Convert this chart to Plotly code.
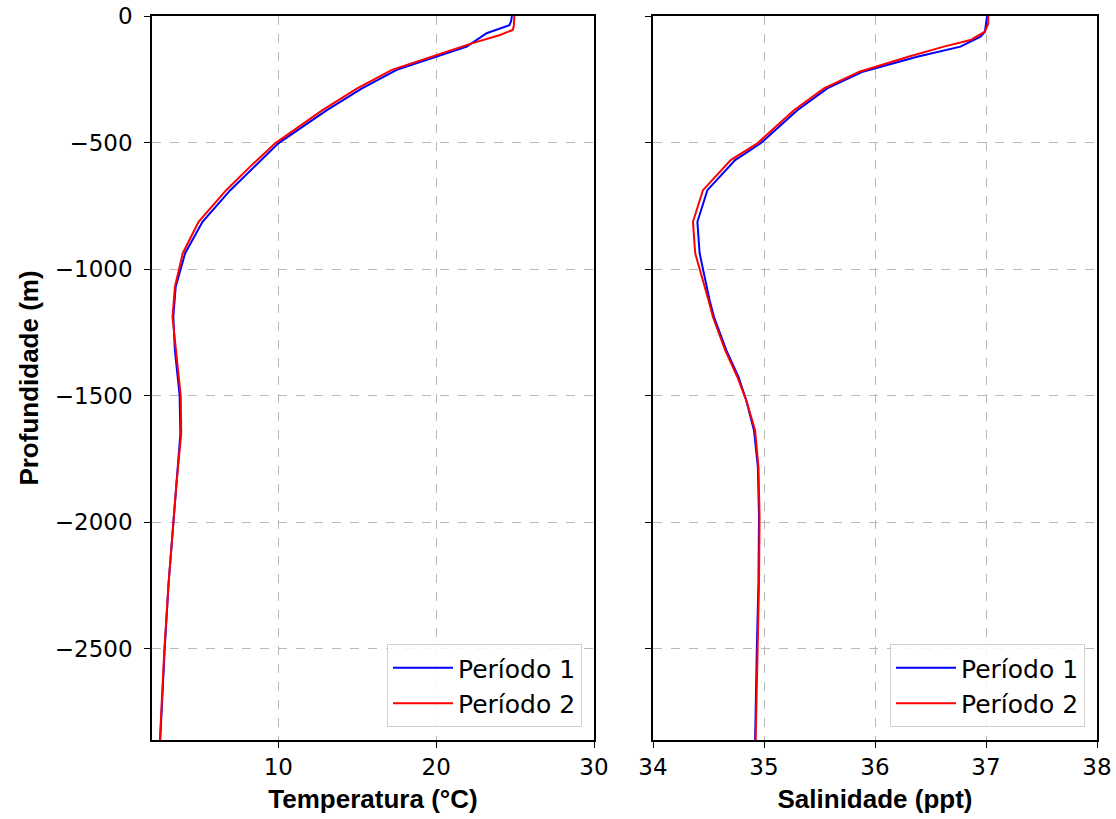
import plotly.graph_objects as go

# ---- Data ----
depth_t1 = [0, -20, -36, -68, -121, -161, -213, -286, -372, -503, -596, -688, -813, -937,
            -1070, -1189, -1320, -1500, -1650, -1846, -2242, -2506, -2860]
temp_p1 = [24.8, 24.75, 24.64, 23.2, 21.94, 20.04, 17.5, 15.3, 13.08, 10.0, 8.44, 6.96, 5.2, 4.1,
           3.5, 3.35, 3.45, 3.75, 3.8, 3.55, 3.05, 2.8, 2.52]

depth_t2 = [0, -40, -55, -75, -108, -161, -213, -286, -372, -503, -596, -688, -813, -937,
            -1070, -1189, -1320, -1500, -1650, -1846, -2242, -2506, -2860]
temp_p2 = [24.95, 24.92, 24.85, 24.05, 22.26, 19.7, 17.2, 15.0, 12.8, 9.8, 8.2, 6.7, 4.95, 3.95,
           3.45, 3.3, 3.5, 3.82, 3.85, 3.55, 3.05, 2.78, 2.5]

depth_s1 = [0, -30, -62, -82, -121, -161, -220, -286, -372, -503, -569, -688, -813, -937,
            -1123, -1189, -1320, -1426, -1518, -1637, -1782, -1979, -2242, -2506, -2860]
sal_p1 = [37.01, 37.0, 36.99, 36.95, 36.77, 36.38, 35.89, 35.57, 35.30, 34.97, 34.74, 34.49, 34.40, 34.42,
          34.51, 34.55, 34.66, 34.77, 34.84, 34.91, 34.945, 34.955, 34.95, 34.935, 34.92]

depth_s2 = [0, -30, -62, -95, -121, -161, -220, -286, -372, -503, -569, -688, -813, -937,
            -1123, -1189, -1320, -1426, -1518, -1637, -1782, -1979, -2242, -2506, -2860]
sal_p2 = [37.02, 37.02, 36.99, 36.86, 36.62, 36.3, 35.86, 35.54, 35.27, 34.94, 34.70, 34.45, 34.36, 34.38,
          34.50, 34.54, 34.65, 34.76, 34.84, 34.92, 34.95, 34.96, 34.955, 34.94, 34.925]

series_names = ["Período 1", "Período 2"]
colors = ["#0000ff", "#ff0000"]

temp_ticks = [10, 20, 30]
sal_ticks = [34, 35, 36, 37, 38]
depth_ticks = [0, -500, -1000, -1500, -2000, -2500]

W, H = 1116, 819
TICK_FONT = dict(family="DejaVu Sans", size=23, color="#000000")
TITLE_FONT = dict(family="Liberation Sans, Arial", size=26, color="#000000")


def fx(px):
    return px / W


def fy(py):
    return 1 - py / H


fig = go.Figure()

fig.add_trace(go.Scatter(x=temp_p1, y=depth_t1, mode="lines", name=series_names[0],
                         line=dict(color=colors[0], width=2), xaxis="x", yaxis="y", legend="legend"))
fig.add_trace(go.Scatter(x=temp_p2, y=depth_t2, mode="lines", name=series_names[1],
                         line=dict(color=colors[1], width=2), xaxis="x", yaxis="y", legend="legend"))
fig.add_trace(go.Scatter(x=sal_p1, y=depth_s1, mode="lines", name=series_names[0],
                         line=dict(color=colors[0], width=2), xaxis="x2", yaxis="y2", legend="legend2"))
fig.add_trace(go.Scatter(x=sal_p2, y=depth_s2, mode="lines", name=series_names[1],
                         line=dict(color=colors[1], width=2), xaxis="x2", yaxis="y2", legend="legend2"))

axis_common = dict(
    showline=True, linecolor="#000000", linewidth=1.6, mirror=True,
    ticks="outside", ticklen=6, tickwidth=1.4, tickcolor="#000000",
    showgrid=True, gridcolor="#b8b8b8", griddash="dash", gridwidth=1,
    zeroline=False, tickfont=TICK_FONT, automargin=False,
    ticklabeloverflow="allow",
)

legend_common = dict(
    font=dict(family="DejaVu Sans", size=25, color="#000000"),
    bgcolor="rgba(255,255,255,0.85)", bordercolor="#d0d0d0", borderwidth=1,
    xanchor="right", yanchor="bottom", tracegroupgap=0, itemwidth=60,
)

fig.update_layout(
    width=W, height=H,
    margin=dict(l=0, r=0, t=0, b=0),
    paper_bgcolor="#ffffff", plot_bgcolor="#ffffff",
    xaxis=dict(axis_common, domain=[fx(152), fx(594)], range=[2, 30], tickvals=temp_ticks,
               anchor="y",
               title=dict(text="<b>Temperatura (°C)</b>", font=TITLE_FONT, standoff=10)),
    yaxis=dict(axis_common, domain=[fy(740), fy(16)], range=[-2860, 0], tickvals=depth_ticks,
               anchor="x", ticklabelstandoff=7,
               title=dict(text="<b>Profundidade (m)</b>", font=TITLE_FONT, standoff=9)),
    xaxis2=dict(axis_common, domain=[fx(653), fx(1097)], range=[34, 38], tickvals=sal_ticks,
                anchor="y2",
                title=dict(text="<b>Salinidade (ppt)</b>", font=TITLE_FONT, standoff=10)),
    yaxis2=dict(axis_common, domain=[fy(740), fy(16)], range=[-2860, 0], tickvals=depth_ticks,
                anchor="x2", matches="y", showticklabels=False),
    legend=dict(legend_common, x=fx(582), y=fy(727)),
    legend2=dict(legend_common, x=fx(1085), y=fy(727)),
    showlegend=True,
)

# remove the default page margin so the figure fills the window exactly
fig.write_html("out.html",
               config={"displayModeBar": False},
               post_script="document.body.style.margin='0px';document.body.style.overflow='hidden';")
